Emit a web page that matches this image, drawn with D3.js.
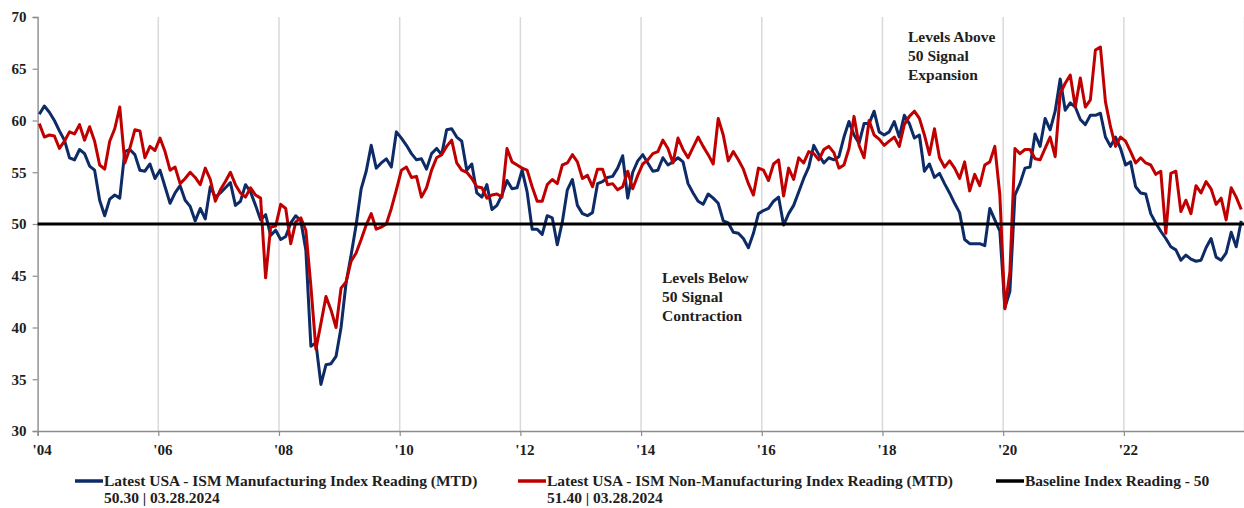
<!DOCTYPE html>
<html><head><meta charset="utf-8">
<script src="https://cdn.jsdelivr.net/npm/d3@7"></script>
<style>
html,body{margin:0;padding:0;background:#fff;}
svg{display:block;}
text{font-family:"Liberation Serif","Times New Roman",serif;font-weight:bold;fill:#1e1e1e;}
</style></head><body>
<svg id="chart" width="1244" height="508"></svg>
<script>
// Monthly readings, Apr 2004 .. Mar 2024 (240 months)
const manufacturing = [
60.6,61.4,60.8,60.0,59.0,58.1,56.4,56.2,57.2,56.8,55.6,55.2,
52.3,50.8,52.4,52.8,52.5,57.0,57.2,56.7,55.2,55.1,55.8,54.4,
55.2,53.6,52.0,53.0,53.7,52.3,51.7,50.3,51.5,50.5,53.6,52.6,
53.0,53.5,54.0,51.8,52.2,53.8,53.1,51.8,50.4,50.9,48.9,49.4,
48.5,48.8,50.1,50.8,50.3,47.5,38.2,38.5,34.5,36.4,36.5,37.2,
40.0,44.3,47.0,49.9,53.4,55.1,57.6,55.4,55.9,56.3,55.5,58.9,
58.3,57.6,56.8,56.2,56.3,55.3,56.8,57.3,56.7,59.1,59.2,58.4,
58.0,55.2,55.8,53.0,52.6,53.8,51.4,51.8,52.8,54.2,53.4,53.5,
55.2,53.1,49.5,49.5,49.0,50.8,50.6,48.0,50.2,53.3,54.3,51.8,
51.0,50.8,51.1,53.9,54.1,54.5,54.6,55.4,56.6,52.5,55.0,56.1,
56.7,55.9,55.1,55.2,56.4,55.7,56.0,56.4,56.0,53.9,53.0,52.2,
51.9,52.9,52.5,52.0,50.3,50.1,49.2,49.1,48.6,47.7,49.1,51.0,
51.3,51.5,52.2,52.6,49.9,51.0,51.8,53.1,54.4,55.5,57.6,56.7,
55.9,56.4,56.2,56.5,58.4,59.9,58.6,57.8,59.7,59.7,60.9,58.9,
58.6,58.9,59.9,58.4,60.5,59.7,58.3,58.6,55.1,55.8,54.5,54.9,
53.9,53.0,52.0,51.1,48.5,48.1,48.1,48.1,47.9,51.5,50.4,49.3,
41.9,43.5,52.8,53.9,55.4,55.5,58.7,57.5,60.2,59.1,60.9,64.0,
61.0,61.7,61.3,60.1,59.6,60.5,60.5,60.7,58.4,57.5,58.4,57.3,
55.7,56.0,53.6,53.0,52.9,51.0,50.1,49.3,48.6,47.8,47.5,46.5,
47.0,46.6,46.4,46.5,47.7,48.6,46.8,46.5,47.2,49.2,47.8,50.3
];
const nonManufacturing = [
59.7,58.4,58.6,58.5,57.3,58.0,58.9,58.7,59.6,58.1,59.4,58.0,
55.7,55.3,58.0,59.2,61.3,55.9,57.3,59.1,59.0,56.4,57.5,57.1,
58.3,57.0,55.2,55.5,53.9,54.4,55.0,54.5,53.8,55.4,54.3,52.2,
53.3,54.1,55.0,53.8,53.0,52.6,53.5,52.8,52.5,44.8,49.7,49.8,
51.9,51.5,48.1,50.2,50.6,49.4,44.0,37.9,40.4,43.0,41.7,40.0,
43.8,44.4,46.4,47.2,48.5,49.9,51.0,49.5,49.7,50.0,51.5,53.3,
55.2,55.5,54.5,54.6,52.6,53.5,55.2,56.4,56.7,57.5,58.1,55.9,
55.2,55.0,54.4,53.6,53.5,52.5,52.8,52.9,52.6,57.3,56.0,55.7,
55.4,55.2,53.6,52.2,52.2,53.8,54.3,53.9,55.7,55.9,56.7,56.0,
54.4,54.7,53.6,55.3,55.3,53.8,53.9,53.3,53.6,55.1,53.4,54.7,
55.8,56.2,56.8,57.0,58.1,57.3,55.9,58.3,57.2,56.4,57.4,58.4,
57.5,56.7,55.8,60.2,58.6,56.1,57.0,56.2,55.3,53.9,52.8,55.4,
55.2,54.2,55.8,56.2,52.7,55.4,54.3,56.4,55.9,57.0,56.8,56.2,
57.2,57.5,56.9,55.4,55.7,57.3,60.4,57.6,56.4,60.0,58.6,58.2,
57.6,58.0,58.4,57.5,59.6,60.4,60.9,60.2,58.6,56.7,59.2,56.4,
55.5,56.1,55.4,54.4,56.0,53.2,54.8,53.7,55.7,56.0,57.5,52.8,
41.8,45.4,57.3,56.8,57.2,57.2,56.3,56.2,57.3,58.4,56.5,62.6,
63.6,64.4,61.3,64.1,61.3,62.0,66.8,67.1,61.8,59.4,57.5,58.4,
58.0,57.0,55.9,56.4,55.9,55.7,54.8,55.1,49.1,54.9,55.1,51.2,
52.3,51.0,53.7,53.0,54.1,53.4,51.9,52.5,50.4,53.5,52.6,51.4
];
const baselineValue = 50;
const yTicks = [30,35,40,45,50,55,60,65,70];
const xTickLabels = ["'04","'06","'08","'10","'12","'14","'16","'18","'20","'22",""];
const annotationAbove = ["Levels Above","50 Signal","Expansion"];
const annotationBelow = ["Levels Below","50 Signal","Contraction"];
const legendLabels = [
  "Latest USA - ISM Manufacturing Index Reading (MTD)",
  "Latest USA - ISM Non-Manufacturing Index Reading (MTD)",
  "Baseline Index Reading - 50"
];
const legendSubLabels = ["50.30 | 03.28.2024","51.40 | 03.28.2024",""];

(function () {
const BLUE = "#0d2b66", RED = "#c00000";
const svg = d3.select("#chart");
const plotLeft = 37.6, plotTop = 17, plotBottom = 431, step = 5.029;
const n = manufacturing.length;
const x = d3.scaleLinear().domain([-0.34, n - 0.34]).range([plotLeft, plotLeft + n * step]);
const y = d3.scaleLinear().domain([30, 70]).range([plotBottom, plotTop]);
const tickPos = xTickLabels.map((_, k) => k * 24 - 0.34);

// gridlines
svg.append("g").selectAll("line").data(tickPos.slice(1)).join("line")
  .attr("x1", d => x(d)).attr("x2", d => x(d))
  .attr("y1", plotTop).attr("y2", plotBottom)
  .attr("stroke", "#d9d9d9").attr("stroke-width", 1.5);

// y axis
const ya = svg.append("g").attr("transform", `translate(${plotLeft},0)`)
  .call(d3.axisLeft(y).tickValues(yTicks).tickSize(5).tickPadding(6));
ya.select(".domain").attr("stroke", "#8c8c8c").attr("stroke-width", 1.4);
ya.selectAll(".tick line").attr("stroke", "#8c8c8c").attr("stroke-width", 1.2);
ya.selectAll("text").attr("font-size", 15).attr("fill", "#1e1e1e")
  .attr("font-family", "Liberation Serif").attr("font-weight", "bold");

// x axis
const xa = svg.append("g").attr("transform", `translate(0,${plotBottom})`)
  .call(d3.axisBottom(x).tickValues(tickPos).tickSize(5).tickPadding(8)
    .tickFormat((d, i) => xTickLabels[i]));
xa.select(".domain").attr("stroke", "#8c8c8c").attr("stroke-width", 1.4);
xa.selectAll(".tick line").attr("stroke", "#8c8c8c").attr("stroke-width", 1.2);
xa.selectAll("text").attr("font-size", 15).attr("dx", 4).attr("fill", "#1e1e1e")
  .attr("font-family", "Liberation Serif").attr("font-weight", "bold");

// series
const line = d3.line().x((d, i) => x(i)).y(d => y(d));
svg.append("path").datum(manufacturing).attr("d", line)
  .attr("fill", "none").attr("stroke", BLUE).attr("stroke-width", 3).attr("stroke-linejoin", "round");
svg.append("path").datum(nonManufacturing).attr("d", line)
  .attr("fill", "none").attr("stroke", RED).attr("stroke-width", 3).attr("stroke-linejoin", "round");

// baseline
svg.append("line").attr("x1", plotLeft).attr("x2", plotLeft + n * step)
  .attr("y1", y(baselineValue)).attr("y2", y(baselineValue))
  .attr("stroke", "#000").attr("stroke-width", 3.2);

// annotations
function annot(lines, ax, ay) {
  svg.append("g").selectAll("text").data(lines).join("text")
    .attr("x", ax).attr("y", (d, i) => ay + i * 19)
    .attr("font-size", 15.5).text(d => d);
}
annot(annotationAbove, 908, 42);
annot(annotationBelow, 662, 283);

// legend
const legendX = [75, 518, 996];
const legendColors = [BLUE, RED, "#000"];
legendLabels.forEach((lab, i) => {
  const g = svg.append("g");
  g.append("line").attr("x1", legendX[i]).attr("x2", legendX[i] + 28)
    .attr("y1", 481).attr("y2", 481).attr("stroke", legendColors[i]).attr("stroke-width", 3.5);
  g.append("text").attr("x", legendX[i] + 29).attr("y", 486).attr("font-size", 15.5).text(lab);
  if (legendSubLabels[i]) g.append("text").attr("x", legendX[i] + 29).attr("y", 503)
    .attr("font-size", 15.5).text(legendSubLabels[i]);
});
})();
</script>
</body></html>
